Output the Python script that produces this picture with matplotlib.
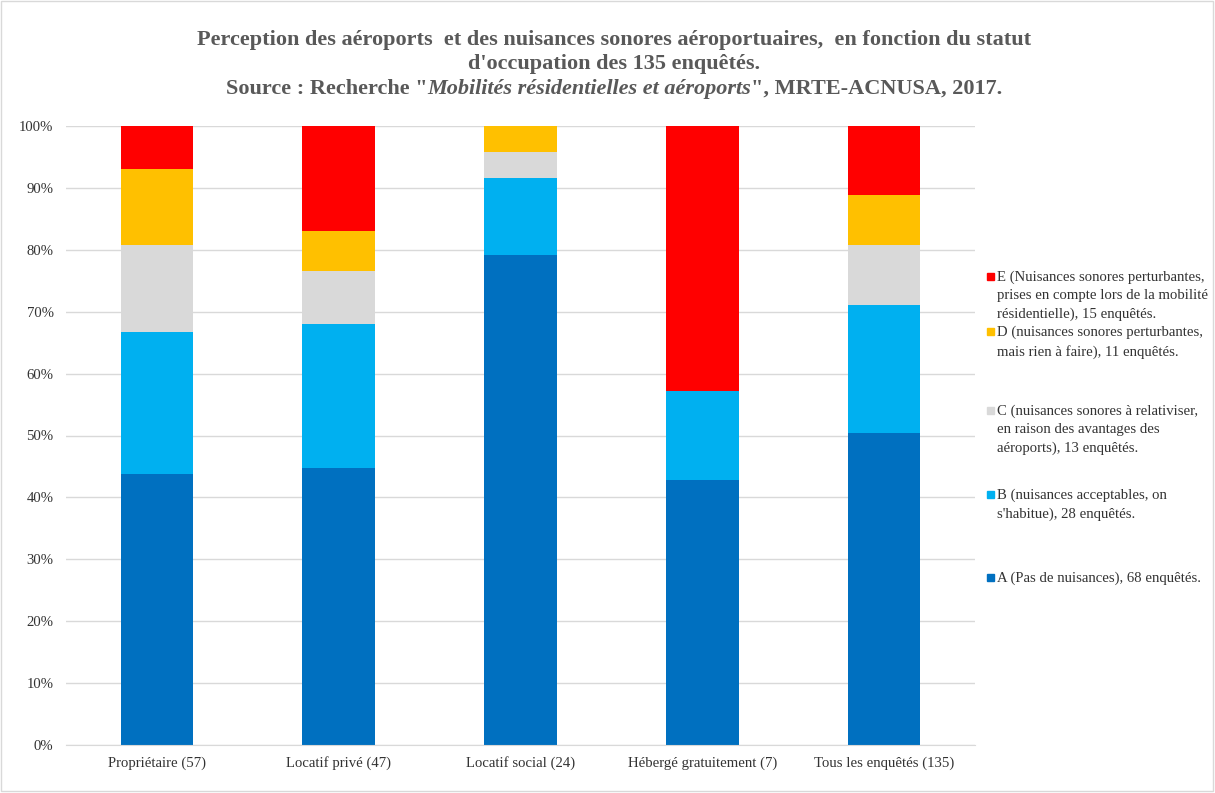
import numpy as np
import matplotlib.pyplot as plt
from matplotlib.patches import Rectangle

# categories and counts per perception class
categories = ['Propriétaire (57)', 'Locatif privé (47)', 'Locatif social (24)',
              'Hébergé gratuitement (7)', 'Tous les enquêtés (135)']
count_a = [25, 21, 19, 3, 68]
count_b = [13, 11, 3, 1, 28]
count_c = [8, 4, 1, 0, 13]
count_d = [7, 3, 1, 0, 11]
count_e = [4, 8, 0, 3, 15]

series_labels = [
    'A (Pas de nuisances), 68 enquêtés.',
    "B (nuisances acceptables, on\ns'habitue), 28 enquêtés.",
    'C (nuisances sonores à relativiser,\nen raison des avantages des\naéroports), 13 enquêtés.',
    'D (nuisances sonores perturbantes,\nmais rien à faire), 11 enquêtés.',
    'E (Nuisances sonores perturbantes,\nprises en compte lors de la mobilité\nrésidentielle), 15 enquêtés.',
]
colors = ['#0070C0', '#00B0F0', '#D9D9D9', '#FFC000', '#FF0000']

plt.rcParams['font.family'] = ['Liberation Serif', 'DejaVu Serif']

counts = np.array([count_a, count_b, count_c, count_d, count_e], dtype=float)
pct = counts / counts.sum(axis=0) * 100

W, H = 1215, 793
fig = plt.figure(figsize=(W / 100, H / 100), dpi=100)
ax = fig.add_axes([66 / W, 1 - 745 / H, (975 - 66) / W, (745 - 126) / H])

x = np.arange(len(categories))
bottom = np.zeros(len(categories))
for vals, col in zip(pct, colors):
    ax.bar(x, vals, 0.4, bottom=bottom, color=col, zorder=2)
    bottom += vals

ax.set_xlim(-0.5, len(categories) - 0.5)
ax.set_ylim(0, 100)
ax.set_yticks(np.arange(0, 101, 10))
ax.set_yticklabels([f'{v}%' for v in range(0, 101, 10)])
ax.set_xticks(x)
ax.set_xticklabels(categories, va='baseline')
ax.tick_params(length=0, labelsize=10.6, colors='#333333')
ax.tick_params(axis='x', pad=15.8)
ax.tick_params(axis='y', pad=9)
ax.yaxis.grid(True, color='#D9D9D9', linewidth=1, zorder=0)
for s in ['top', 'right', 'left']:
    ax.spines[s].set_visible(False)
ax.spines['bottom'].set_color('#D9D9D9')

# legend drawn by hand, reversed order as in the original
legend_y = [577, 494, 410, 331, 276]
for lab, col, ly in zip(series_labels, colors, legend_y):
    fig.patches.append(Rectangle((987 / W, 1 - (ly + 4) / H), 7 / W, 7 / H,
                                 transform=fig.transFigure, color=col))
    fig.text(997 / W, 1 - (ly - 5) / H, lab, fontsize=10.6, color='#333333',
             va='top', ha='left', linespacing=1.5)

# title
tcol = '#595959'
fs = 16
fig.text(614 / W, 1 - 40 / H, 'Perception des aéroports  et des nuisances sonores aéroportuaires,  en fonction du statut',
         ha='center', va='center', fontsize=fs, fontweight='bold', color=tcol)
fig.text(614 / W, 1 - 64 / H, "d'occupation des 135 enquêtés.",
         ha='center', va='center', fontsize=fs, fontweight='bold', color=tcol)

parts = [('Source : Recherche "', 'normal'),
         ('Mobilités résidentielles et aéroports', 'italic'),
         ('", MRTE-ACNUSA, 2017.', 'normal')]
texts = [fig.text(0, 1 - 89 / H, p, ha='left', va='center', fontsize=fs,
                  fontweight='bold', style=st, color=tcol) for p, st in parts]
fig.canvas.draw()
r = fig.canvas.get_renderer()
widths = [t.get_window_extent(r).width for t in texts]
xpos = 614 - sum(widths) / 2
for t, w in zip(texts, widths):
    t.set_x(xpos / W)
    xpos += w

# outer border
fig.patches.append(Rectangle((1 / W, 2 / H), (W - 3) / W, (H - 3) / H,
                             transform=fig.transFigure, fill=False,
                             edgecolor='#D9D9D9', linewidth=1))

fig.savefig('out.png', dpi=100)
